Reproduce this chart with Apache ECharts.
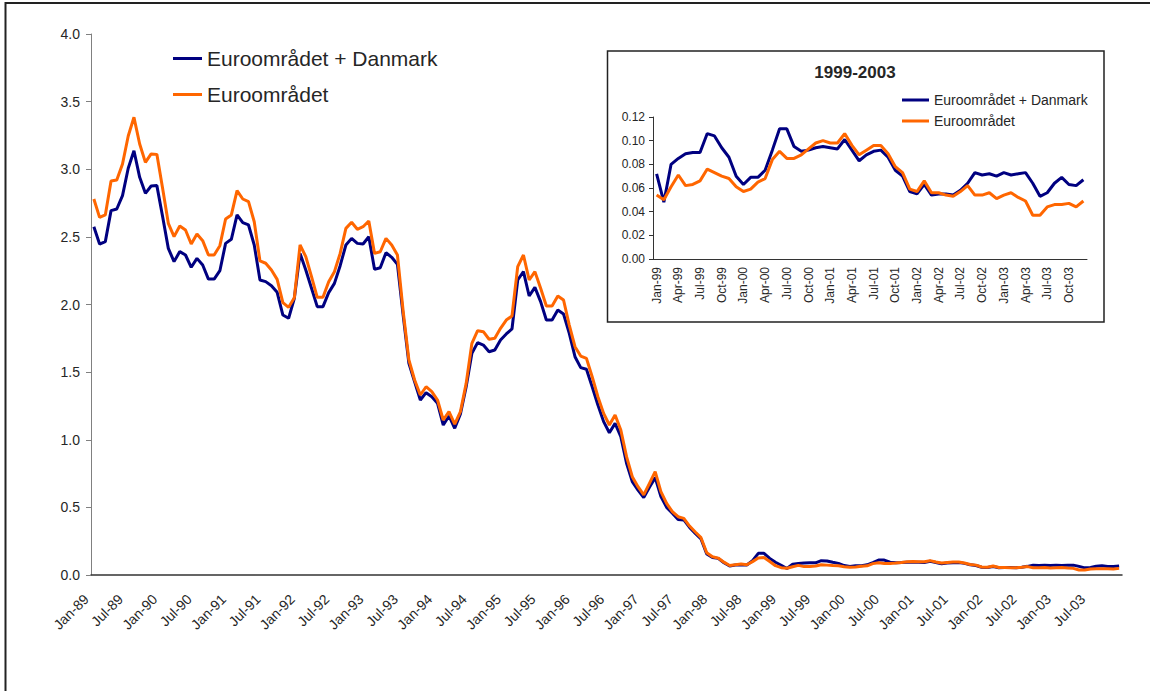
<!DOCTYPE html>
<html>
<head>
<meta charset="utf-8">
<script src="https://cdn.jsdelivr.net/npm/echarts@6/dist/echarts.min.js"></script>
<style>
html, body { margin: 0; padding: 0; background: #fff; overflow: hidden; }
#chart { width: 1150px; height: 691px; }
</style>
</head>
<body>
<div id="chart"></div>
<script>
// month labels
const months = ['Jan', 'Feb', 'Mar', 'Apr', 'May', 'Jun', 'Jul', 'Aug', 'Sep', 'Oct', 'Nov', 'Dec'];
const mainYears = ['89', '90', '91', '92', '93', '94', '95', '96', '97', '98', '99', '00', '01', '02', '03'];
const insetYears = ['99', '00', '01', '02', '03'];

const nameDk = 'Euroområdet + Danmark';
const nameEuro = 'Euroområdet';

// 1989-1998, monthly
const euroDk8998 = [
  2.575, 2.447, 2.465, 2.694, 2.706, 2.805, 3.007, 3.137, 2.940, 2.822, 2.876, 2.879,
  2.650, 2.415, 2.317, 2.391, 2.366, 2.275, 2.341, 2.292, 2.188, 2.188, 2.250, 2.452,
  2.482, 2.662, 2.605, 2.588, 2.440, 2.181, 2.169, 2.139, 2.090, 1.922, 1.898, 2.046,
  2.378, 2.255, 2.120, 1.984, 1.984, 2.088, 2.156, 2.287, 2.440, 2.489, 2.452, 2.447,
  2.501, 2.260, 2.272, 2.383, 2.349, 2.297, 1.920, 1.565, 1.429, 1.294, 1.348, 1.318,
  1.269, 1.109, 1.176, 1.085, 1.190, 1.392, 1.639, 1.718, 1.700, 1.651, 1.664, 1.738,
  1.782, 1.819, 2.181, 2.243, 2.063, 2.127, 2.021, 1.885, 1.885, 1.959, 1.930, 1.787,
  1.614, 1.533, 1.521, 1.392, 1.257, 1.134, 1.052, 1.121, 1.023, 0.826, 0.690, 0.628,
  0.572, 0.648, 0.720, 0.580, 0.500, 0.456, 0.411, 0.407, 0.352, 0.308, 0.266, 0.155,
  0.130, 0.123, 0.091, 0.066, 0.074, 0.076, 0.074, 0.106, 0.160, 0.160, 0.123, 0.094
];
const euro8998 = [
  2.780, 2.644, 2.662, 2.913, 2.921, 3.039, 3.246, 3.384, 3.187, 3.051, 3.113, 3.110,
  2.859, 2.600, 2.502, 2.580, 2.551, 2.447, 2.521, 2.472, 2.366, 2.366, 2.435, 2.632,
  2.662, 2.842, 2.780, 2.760, 2.612, 2.322, 2.305, 2.255, 2.186, 2.014, 1.979, 2.050,
  2.440, 2.354, 2.206, 2.053, 2.053, 2.169, 2.243, 2.378, 2.563, 2.608, 2.556, 2.575,
  2.617, 2.378, 2.390, 2.489, 2.440, 2.366, 1.950, 1.590, 1.442, 1.331, 1.392, 1.356,
  1.294, 1.146, 1.208, 1.116, 1.208, 1.417, 1.713, 1.806, 1.799, 1.743, 1.750, 1.824,
  1.885, 1.915, 2.280, 2.366, 2.181, 2.243, 2.120, 1.989, 1.989, 2.063, 2.033, 1.848,
  1.688, 1.619, 1.602, 1.466, 1.318, 1.195, 1.109, 1.183, 1.072, 0.875, 0.727, 0.653,
  0.592, 0.678, 0.764, 0.616, 0.530, 0.468, 0.431, 0.419, 0.362, 0.318, 0.276, 0.165,
  0.135, 0.125, 0.095, 0.070, 0.076, 0.081, 0.076, 0.099, 0.125, 0.130, 0.100, 0.069
];

// 1999-2003, monthly (inset, also the tail of the main chart)
const euroDk9903 = [
  0.072, 0.048, 0.080, 0.085, 0.089, 0.090, 0.090, 0.106, 0.104, 0.094, 0.086, 0.070,
  0.063, 0.069, 0.069, 0.075, 0.092, 0.110, 0.110, 0.095, 0.091, 0.092, 0.094, 0.095,
  0.094, 0.093, 0.101, 0.092, 0.083, 0.088, 0.091, 0.092, 0.086, 0.075, 0.070, 0.057,
  0.055, 0.063, 0.054, 0.055, 0.055, 0.054, 0.058, 0.064, 0.073, 0.071, 0.072, 0.070,
  0.073, 0.071, 0.072, 0.073, 0.064, 0.053, 0.056, 0.064, 0.069, 0.063, 0.062, 0.067
];
const euro9903 = [
  0.054, 0.050, 0.061, 0.071, 0.062, 0.063, 0.066, 0.076, 0.073, 0.070, 0.068, 0.061,
  0.057, 0.059, 0.065, 0.068, 0.084, 0.091, 0.085, 0.085, 0.088, 0.093, 0.098, 0.100,
  0.098, 0.098, 0.106, 0.096, 0.088, 0.092, 0.096, 0.096, 0.089, 0.078, 0.073, 0.059,
  0.057, 0.066, 0.056, 0.056, 0.054, 0.053, 0.057, 0.062, 0.054, 0.054, 0.056, 0.051,
  0.054, 0.056, 0.052, 0.049, 0.037, 0.037, 0.044, 0.046, 0.046, 0.047, 0.044, 0.049
];

const mainCats = mainYears.flatMap(y => months.map(m => m + '-' + y));
const insetCats = insetYears.flatMap(y => months.map(m => m + '-' + y));

const FONT = 'Liberation Sans';
const BLUE = '#000080';
const ORANGE = '#FF6600';
const TXT = '#262626';

const chart = echarts.init(document.getElementById('chart'), null, { renderer: 'svg' });

chart.setOption({
  animation: false,
  backgroundColor: '#fff',
  textStyle: { fontFamily: FONT },
  grid: [
    { left: 91, top: 34, width: 1031, height: 541 },
    { left: 653, top: 117, width: 434, height: 142 }
  ],
  xAxis: [
    {
      type: 'category', gridIndex: 0, data: mainCats, boundaryGap: true,
      axisLine: { lineStyle: { color: '#333', width: 1.5 } },
      axisTick: { interval: 5, length: 5, lineStyle: { color: '#808080' } },
      axisLabel: {
        interval: 5, rotate: 45, fontSize: 14, color: TXT, margin: 14,
        padding: [0, 11, 0, 0], fontFamily: FONT
      }
    },
    {
      type: 'category', gridIndex: 1, data: insetCats, boundaryGap: true,
      axisLine: { lineStyle: { color: '#333', width: 1 } },
      axisTick: { interval: 2, length: 4, lineStyle: { color: '#333' } },
      axisLabel: { interval: 2, rotate: 90, fontSize: 12, color: TXT, margin: 8, fontFamily: FONT }
    }
  ],
  yAxis: [
    {
      type: 'value', gridIndex: 0, min: 0, max: 4, interval: 0.5,
      splitLine: { show: false },
      axisLine: { show: true, lineStyle: { color: '#808080' } },
      axisTick: { show: true, length: 5, lineStyle: { color: '#808080' } },
      axisLabel: { formatter: v => v.toFixed(1), fontSize: 14, color: TXT, margin: 11, fontFamily: FONT }
    },
    {
      type: 'value', gridIndex: 1, min: 0, max: 0.12, interval: 0.02,
      splitLine: { show: false },
      axisLine: { show: true, lineStyle: { color: '#333' } },
      axisTick: { show: true, length: 4, lineStyle: { color: '#333' } },
      axisLabel: { formatter: v => v.toFixed(2), fontSize: 12, color: TXT, margin: 8, fontFamily: FONT }
    }
  ],
  legend: [
    {
      data: [nameDk, nameEuro], orient: 'vertical', left: 173, top: 48, padding: 0,
      icon: 'rect', itemWidth: 29, itemHeight: 3, itemGap: 15,
      textStyle: { fontSize: 21, color: TXT, fontFamily: FONT }
    },
    {
      data: [nameDk, nameEuro], orient: 'vertical', left: 902, top: 93, padding: 0,
      icon: 'rect', itemWidth: 27, itemHeight: 3, itemGap: 7,
      textStyle: { fontSize: 14, color: TXT, fontFamily: FONT }
    }
  ],
  graphic: [
    { type: 'polyline', silent: true, z: -10, shape: { points: [[5.5, 700], [5.5, 3], [1160, 3]] },
      style: { fill: 'none', stroke: '#222', lineWidth: 2 } },
    { type: 'rect', silent: true, z: -5, shape: { x: 607.5, y: 51, width: 496.5, height: 271 },
      style: { fill: '#fff', stroke: '#222', lineWidth: 1.5 } },
    { type: 'text', silent: true, x: 855, y: 72,
      style: { text: '1999-2003', font: 'bold 17px "Liberation Sans"', fill: TXT, textAlign: 'center', textVerticalAlign: 'middle' } }
  ],
  series: [
    { name: nameDk, type: 'line', xAxisIndex: 0, yAxisIndex: 0, data: euroDk8998.concat(euroDk9903),
      showSymbol: false, lineStyle: { color: BLUE, width: 3 }, itemStyle: { color: BLUE } },
    { name: nameEuro, type: 'line', xAxisIndex: 0, yAxisIndex: 0, data: euro8998.concat(euro9903),
      showSymbol: false, lineStyle: { color: ORANGE, width: 3 }, itemStyle: { color: ORANGE } },
    { name: nameDk, type: 'line', xAxisIndex: 1, yAxisIndex: 1, data: euroDk9903,
      showSymbol: false, lineStyle: { color: BLUE, width: 3 }, itemStyle: { color: BLUE } },
    { name: nameEuro, type: 'line', xAxisIndex: 1, yAxisIndex: 1, data: euro9903,
      showSymbol: false, lineStyle: { color: ORANGE, width: 3 }, itemStyle: { color: ORANGE } }
  ]
});
</script>
</body>
</html>
